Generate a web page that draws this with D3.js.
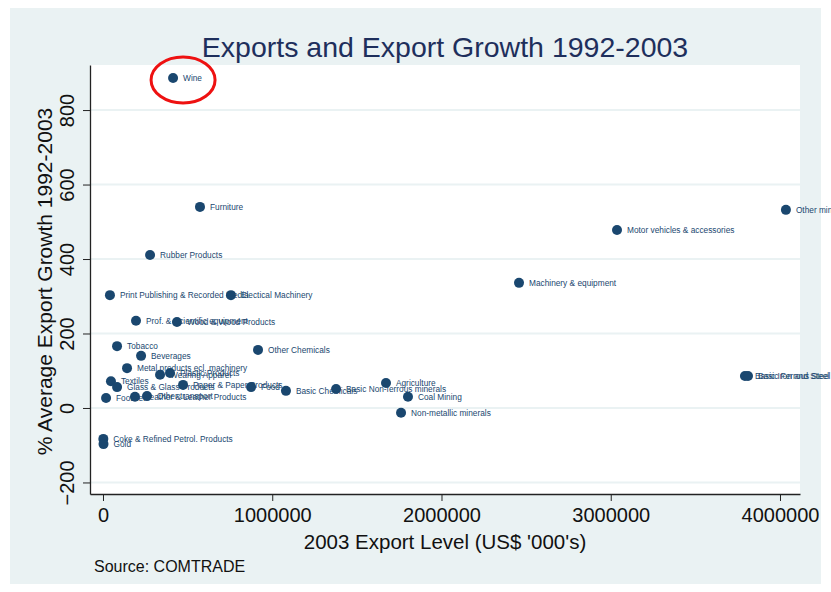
<!DOCTYPE html>
<html>
<head>
<meta charset="utf-8">
<script src="https://cdn.jsdelivr.net/npm/d3@7/dist/d3.min.js"></script>
<style>
  html, body { margin: 0; padding: 0; background: #ffffff; }
  svg { display: block; font-family: "Liberation Sans", Arial, sans-serif; }
</style>
</head>
<body>
<svg id="chart" width="831" height="592"></svg>
<script>
// ---- data ----
const industries = [
  "Wine", "Furniture", "Rubber Products", "Print Publishing & Recorded Media",
  "Electical Machinery", "Prof. & Scientific equipment", "Wood & Wood Products",
  "Tobacco", "Other Chemicals", "Beverages", "Metal products ecl. machinery",
  "Wearing Apparel", "Plastic Products", "Textiles", "Glass & Glass Products",
  "Paper & Paper Products", "Food", "Basic Chemicals", "Basic Non-ferrous minerals",
  "Agriculture", "Coal Mining", "Non-metallic minerals", "Footwear",
  "Leather & Leather Products", "Other transport", "Coke & Refined Petrol. Products",
  "Gold", "Motor vehicles & accessories", "Machinery & equipment", "Other mining",
  "Basic Iron and Steel", "Basic Ferrous Steel"
];
const exportLevel = [
  414000, 573000, 278000, 41000,
  756000, 195000, 437000,
  83000, 916000, 225000, 142000,
  337000, 396000, 47000, 83000,
  473000, 875000, 1081000, 1377000,
  1672000, 1802000, 1761000, 18000,
  189000, 260000, 2000,
  3000, 3037000, 2458000, 4035000,
  3793000, 3811000
];
const avgGrowth = [
  886, 540, 411, 303,
  303, 234, 231,
  166, 156, 140, 107,
  89, 94, 72, 56,
  62, 56, 46, 51,
  67, 30, -13, 27,
  30, 32, -83,
  -97, 478, 336, 532,
  86, 86
];
const xTicks = [0, 1000000, 2000000, 3000000, 4000000];
const yTicks = [-200, 0, 200, 400, 600, 800];
const highlighted = "Wine";

const titleText = "Exports and Export Growth 1992-2003";
const xTitle = "2003 Export Level (US$ '000's)";
const yTitle = "% Average Export Growth 1992-2003";
const sourceText = "Source: COMTRADE";

// ---- layout ----
const svg = d3.select("#chart");
const fig = { left: 10, top: 8, right: 821, bottom: 584 };
const plot = { left: 90, top: 65, right: 800, bottom: 494 };
const navy = "#1a476f";
const bgCol = "#eaf2f3";

svg.append("rect")
  .attr("x", fig.left).attr("y", fig.top)
  .attr("width", fig.right - fig.left).attr("height", fig.bottom - fig.top)
  .attr("fill", bgCol);
svg.append("rect")
  .attr("x", plot.left).attr("y", plot.top)
  .attr("width", plot.right - plot.left).attr("height", plot.bottom - plot.top)
  .attr("fill", "#ffffff");

const x = d3.scaleLinear().domain([-76800, 4118200]).range([plot.left, plot.right]);
const y = d3.scaleLinear().domain([-231, 921]).range([plot.bottom, plot.top]);

// gridlines
svg.append("g").selectAll("line").data(yTicks).join("line")
  .attr("x1", plot.left).attr("x2", plot.right)
  .attr("y1", d => y(d)).attr("y2", d => y(d))
  .attr("stroke", bgCol).attr("stroke-width", 2);

// axes
const yAxis = svg.append("g")
  .attr("transform", `translate(${plot.left},0)`)
  .call(d3.axisLeft(y).tickValues(yTicks).tickSize(7).tickSizeOuter(0).tickPadding(0).tickFormat(d3.format("d")));
yAxis.select(".domain").attr("stroke", "#222").attr("stroke-width", 1.3);
yAxis.selectAll(".tick line").attr("stroke", "#222").attr("stroke-width", 1);
yAxis.selectAll(".tick text")
  .attr("x", null).attr("dy", null)
  .attr("text-anchor", "middle")
  .attr("transform", "translate(-16,0) rotate(-90)")
  .attr("fill", "#111").attr("font-size", 20)
  .attr("font-family", "Liberation Sans, Arial, sans-serif");

const xAxis = svg.append("g")
  .attr("transform", `translate(0,${plot.bottom})`)
  .call(d3.axisBottom(x).tickValues(xTicks).tickSize(7).tickSizeOuter(0).tickPadding(7).tickFormat(d3.format("d")));
xAxis.select(".domain").attr("stroke", "#222").attr("stroke-width", 1.3);
xAxis.selectAll(".tick line").attr("stroke", "#222").attr("stroke-width", 1);
xAxis.selectAll(".tick text")
  .attr("fill", "#111").attr("font-size", 20)
  .attr("font-family", "Liberation Sans, Arial, sans-serif");

// titles
const cx = (plot.left + plot.right) / 2;
svg.append("text").attr("x", cx).attr("y", 57)
  .attr("text-anchor", "middle").attr("font-size", 28.5).attr("fill", "#1e2f5c")
  .text(titleText);
svg.append("text").attr("x", cx).attr("y", 549)
  .attr("text-anchor", "middle").attr("font-size", 20.5).attr("fill", "#111")
  .text(xTitle);
svg.append("text")
  .attr("transform", `translate(52,${(plot.top + plot.bottom) / 2 + 2}) rotate(-90)`)
  .attr("text-anchor", "middle").attr("font-size", 21).attr("fill", "#111")
  .text(yTitle);
svg.append("text").attr("x", 94).attr("y", 572)
  .attr("font-size", 16).attr("fill", "#111")
  .text(sourceText);

// points
const data = industries.map((n, i) => ({ name: n, xv: exportLevel[i], yv: avgGrowth[i] }));
const pts = svg.append("g");
pts.selectAll("circle").data(data).join("circle")
  .attr("cx", d => x(d.xv)).attr("cy", d => y(d.yv)).attr("r", 5)
  .attr("fill", navy);
pts.selectAll("text").data(data).join("text")
  .attr("x", d => x(d.xv) + 10).attr("y", d => y(d.yv) + 3)
  .attr("font-size", 8.3).attr("fill", navy)
  .text(d => d.name);

// highlight annotation
const w = data.find(d => d.name === highlighted);
svg.append("ellipse")
  .attr("cx", x(w.xv) + 10).attr("cy", y(w.yv) + 2)
  .attr("rx", 32).attr("ry", 23)
  .attr("fill", "none").attr("stroke", "#ee1111").attr("stroke-width", 3);
</script>
</body>
</html>
